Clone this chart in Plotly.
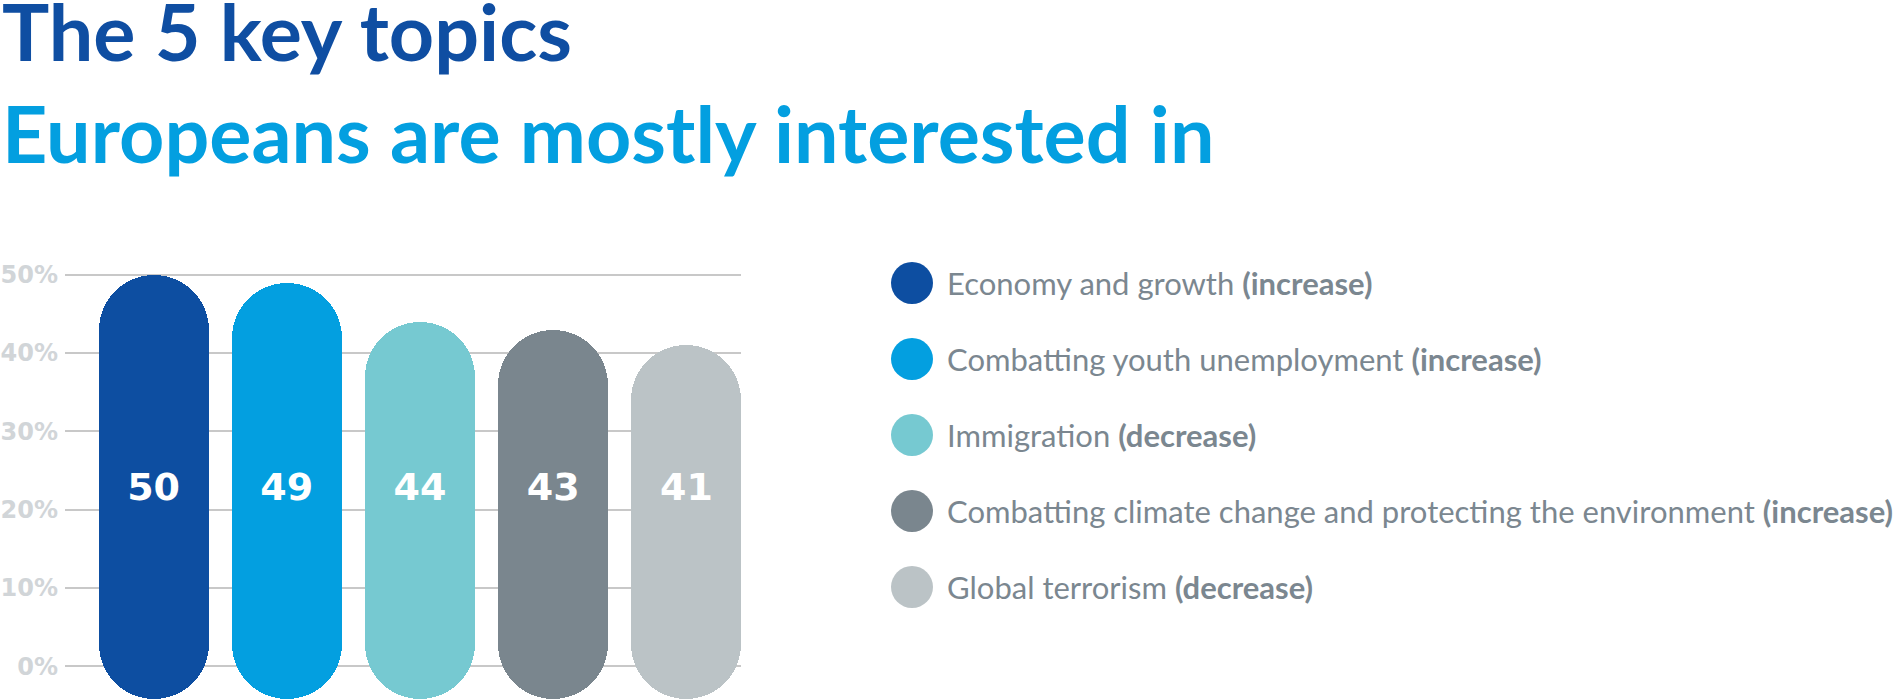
import plotly.graph_objects as go

# ---- data ----
topics = [
    "Economy and growth",
    "Combatting youth unemployment",
    "Immigration",
    "Combatting climate change and protecting the environment",
    "Global terrorism",
]
changes = ["increase", "increase", "decrease", "increase", "decrease"]
values = [50, 49, 44, 43, 41]
colors = ["#0d4ea1", "#039fe0", "#76c9d1", "#7a868e", "#bbc3c6"]
tick_vals = [0, 10, 20, 30, 40, 50]
tick_text = ["0%", "10%", "20%", "30%", "40%", "50%"]
title_1 = "The 5 key topics"
title_2 = "Europeans are mostly interested in"

# ---- style / layout constants ----
W, H = 1900, 700
PILL_BOTTOM = -4.2      # rounded foot of every pill, below the 0% line
LABEL_Y = 22.5          # vertical position of the value labels
BAR_W = 0.827
idx = list(range(len(values)))

fig = go.Figure()

# pills: bar from the rounded foot up to the value (explicit base -> both ends rounded)
fig.add_trace(go.Bar(
    x=idx, y=[v - PILL_BOTTOM for v in values], base=[PILL_BOTTOM] * len(values),
    width=BAR_W, marker=dict(color=colors, line=dict(width=0), cornerradius="50%"),
    hoverinfo="skip", showlegend=False,
))
# value labels
fig.add_trace(go.Scatter(
    x=idx, y=[LABEL_Y] * len(values), mode="text",
    text=[str(v) for v in values],
    textfont=dict(family="DejaVu Sans", size=38, color="white", weight="bold"),
    hoverinfo="skip", showlegend=False,
))

# legend circles (on a pixel-mapped overlay axis)
LEG_X, LEG_Y0, LEG_DY = 912, 283, 76
fig.add_trace(go.Scatter(
    x=[LEG_X] * len(topics), y=[LEG_Y0 + LEG_DY * i for i in idx],
    xaxis="x2", yaxis="y2", mode="markers",
    marker=dict(size=42, color=colors, line=dict(width=0)),
    hoverinfo="skip", showlegend=False,
))

annotations = []
for i, (t, c) in enumerate(zip(topics, changes)):
    annotations.append(dict(
        xref="paper", yref="paper", x=945 / W, y=1 - (LEG_Y0 + LEG_DY * i) / H,
        xanchor="left", yanchor="middle", showarrow=False,
        text=f"{t} <b>({c})</b>",
        font=dict(family="Lato", size=31, color="#7b8790"),
    ))
annotations.append(dict(
    xref="paper", yref="paper", x=0, y=1 - 31 / H, xanchor="left", yanchor="middle",
    showarrow=False, text=f"<b>{title_1}</b>",
    font=dict(family="Lato", size=79, color="#0f4ea2"),
))
annotations.append(dict(
    xref="paper", yref="paper", x=0, y=1 - 132 / H, xanchor="left", yanchor="middle",
    showarrow=False, text=f"<b>{title_2}</b>",
    font=dict(family="Lato", size=79, color="#039fe0"),
))

fig.update_layout(
    width=W, height=H, autosize=False,
    margin=dict(l=0, r=0, t=0, b=0, pad=0),
    paper_bgcolor="white", plot_bgcolor="rgba(0,0,0,0)",
    barmode="overlay", bargap=0,
    showlegend=False,
    xaxis=dict(domain=[65 / W, 741 / W], range=[-0.665, 4.41], showgrid=False,
               zeroline=False, showticklabels=False, showline=False, fixedrange=True),
    yaxis=dict(domain=[0, 441 / H], range=[-4.3, 52], tickvals=tick_vals, ticktext=tick_text,
               showgrid=True, gridcolor="#c8c8c8", gridwidth=1.5, zeroline=False,
               showline=False, ticks="", automargin=False, ticklabelstandoff=6,
               tickfont=dict(family="DejaVu Sans", size=24, color="#d1d5d8", weight="bold")),
    xaxis2=dict(domain=[0, 1], range=[0, W], visible=False, fixedrange=True, anchor="y2"),
    yaxis2=dict(domain=[0, 1], range=[H, 0], visible=False, fixedrange=True, anchor="x2"),
    annotations=annotations,
)

fig.write_html("out.html", config={"displayModeBar": False},
               post_script="document.body.style.margin='0';document.body.style.overflow='hidden';")
